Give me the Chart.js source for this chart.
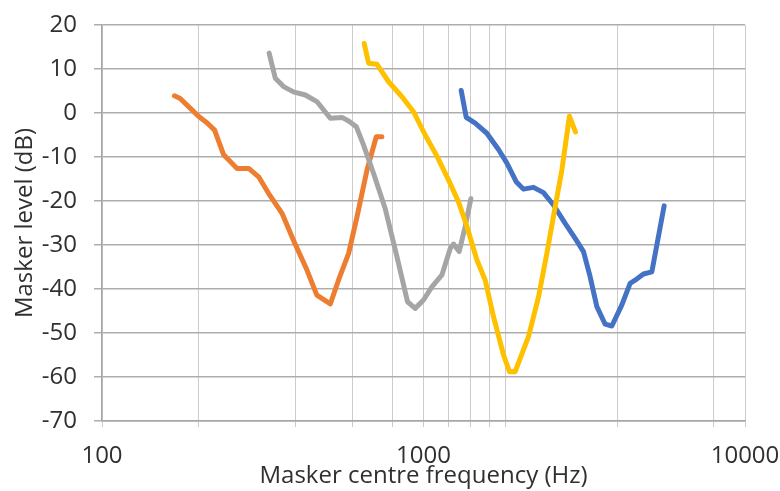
<!DOCTYPE html>
<html>
<head>
<meta charset="utf-8">
<script src="https://cdn.jsdelivr.net/npm/chart.js@4.4.1/dist/chart.umd.min.js"></script>
<style>
  body { margin: 0; background: #fff; }
  #maskChart { display: block; }
</style>
</head>
<body>
<canvas id="maskChart" width="780" height="491"></canvas>
<script>
// Masker curves (frequency in Hz, level in dB)
const blueFreq  = [1310, 1358, 1448, 1574, 1711, 1817, 1942, 2046, 2198, 2361, 2537, 2758, 2963, 3145, 3298, 3461, 3673, 3853, 4140, 4392, 4553, 4833, 5131, 5604];
const blueLevel = [5.1, -1, -2.3, -4.6, -8.3, -11.4, -15.6, -17.3, -16.9, -18.1, -20.9, -25.1, -28.5, -31.5, -37.2, -44, -48, -48.4, -43.6, -38.7, -38, -36.6, -36.1, -21.1];

const orangeFreq  = [168, 175, 188, 200, 212, 224, 239, 263, 286, 307, 330, 363, 394, 434, 466, 513, 544, 585, 621, 667, 713, 742];
const orangeLevel = [3.9, 3.3, 1.1, -0.8, -2.2, -3.9, -9.5, -12.6, -12.6, -14.5, -18.3, -22.8, -28.9, -35.7, -41.4, -43.4, -38, -31.9, -23.6, -13, -5.4, -5.4];

const grayFreq  = [331, 346, 367, 394, 429, 466, 513, 558, 585, 618, 651, 699, 760, 827, 892, 942, 1000, 1062, 1141, 1211, 1240, 1291, 1348, 1404];
const grayLevel = [13.6, 7.9, 6, 4.8, 4.1, 2.6, -1.2, -1, -1.8, -3.1, -7.3, -13.7, -21.7, -32.7, -42.9, -44.4, -42.5, -39.5, -36.8, -30.8, -29.8, -31.5, -25.8, -19.5];

const yellowFreq  = [654, 675, 716, 779, 857, 931, 1012, 1101, 1196, 1285, 1365, 1466, 1556, 1651, 1774, 1851, 1928, 2121, 2279, 2419, 2568, 2694, 2844, 2969];
const yellowLevel = [15.8, 11.3, 11.1, 7.1, 3.7, 0.3, -5, -9.8, -15.2, -20.2, -25.8, -33.4, -38, -46.3, -55, -58.8, -58.8, -50.8, -41.8, -31.9, -21.3, -13, -0.7, -4.3];

// vertical grid positions and the ones that get a label
const xGridValues  = [100, 200, 400, 600, 800, 1000, 1200, 1400, 1600, 1800, 4000, 8000, 10000];
const xLabelValues = [100, 1000, 10000];
const yMin = -70, yMax = 20, yStep = 10;

function toPoints(freq, level) {
  return freq.map((f, i) => ({ x: f, y: level[i] }));
}

function lineSet(label, freq, level, color, order) {
  return {
    label: label,
    data: toPoints(freq, level),
    borderColor: color,
    backgroundColor: color,
    borderWidth: 5,
    borderCapStyle: 'round',
    borderJoinStyle: 'round',
    pointRadius: 0,
    showLine: true,
    tension: 0,
    order: order
  };
}

const textColor = '#303030';
const fontFamily = '"Open Sans", "Noto Sans", sans-serif';

new Chart(document.getElementById('maskChart'), {
  type: 'scatter',
  data: {
    datasets: [
      lineSet('Series 1', blueFreq, blueLevel, '#4472C4', 3),
      lineSet('Series 2', orangeFreq, orangeLevel, '#ED7D31', 2),
      lineSet('Series 3', grayFreq, grayLevel, '#A5A5A5', 1),
      lineSet('Series 4', yellowFreq, yellowLevel, '#FFC000', 0)
    ]
  },
  options: {
    responsive: false,
    animation: false,
    devicePixelRatio: 1,
    layout: { padding: { top: 25, right: 35, left: 0, bottom: 0 } },
    plugins: {
      legend: { display: false },
      tooltip: { enabled: false }
    },
    scales: {
      x: {
        type: 'logarithmic',
        min: 100,
        max: 10000,
        afterBuildTicks: function (scale) {
          scale.ticks = xGridValues.map(v => ({ value: v }));
        },
        afterFit: function (scale) {
          // fixed box so the plot area lines up with the picture
          scale.height = 70;
          scale.paddingLeft = 0;
          scale.paddingRight = 0;
        },
        ticks: {
          autoSkip: false,
          maxRotation: 0,
          padding: 15,
          color: textColor,
          font: { family: fontFamily, size: 24 },
          callback: function (value) {
            return xLabelValues.includes(value) ? String(value) : '';
          }
        },
        grid: {
          color: '#cccccc',
          lineWidth: 1,
          tickLength: 6
        },
        border: { color: '#a6a6a6', width: 1.5 },
        title: {
          display: true,
          text: 'Masker centre frequency (Hz)',
          color: textColor,
          font: { family: fontFamily, size: 24 },
          padding: { top: 0, bottom: 0 }
        }
      },
      y: {
        min: yMin,
        max: yMax,
        afterFit: function (scale) {
          scale.width = 102;
          scale.paddingTop = 0;
          scale.paddingBottom = 0;
        },
        ticks: {
          stepSize: yStep,
          padding: 17,
          color: textColor,
          font: { family: fontFamily, size: 24 }
        },
        grid: {
          color: '#adadad',
          lineWidth: 1.5,
          tickLength: 8
        },
        border: { color: '#a6a6a6', width: 1.5 },
        title: {
          display: true,
          text: 'Masker level (dB)',
          color: textColor,
          font: { family: fontFamily, size: 24 },
          padding: { top: 11, bottom: 0 }
        }
      }
    }
  }
});
</script>
</body>
</html>
